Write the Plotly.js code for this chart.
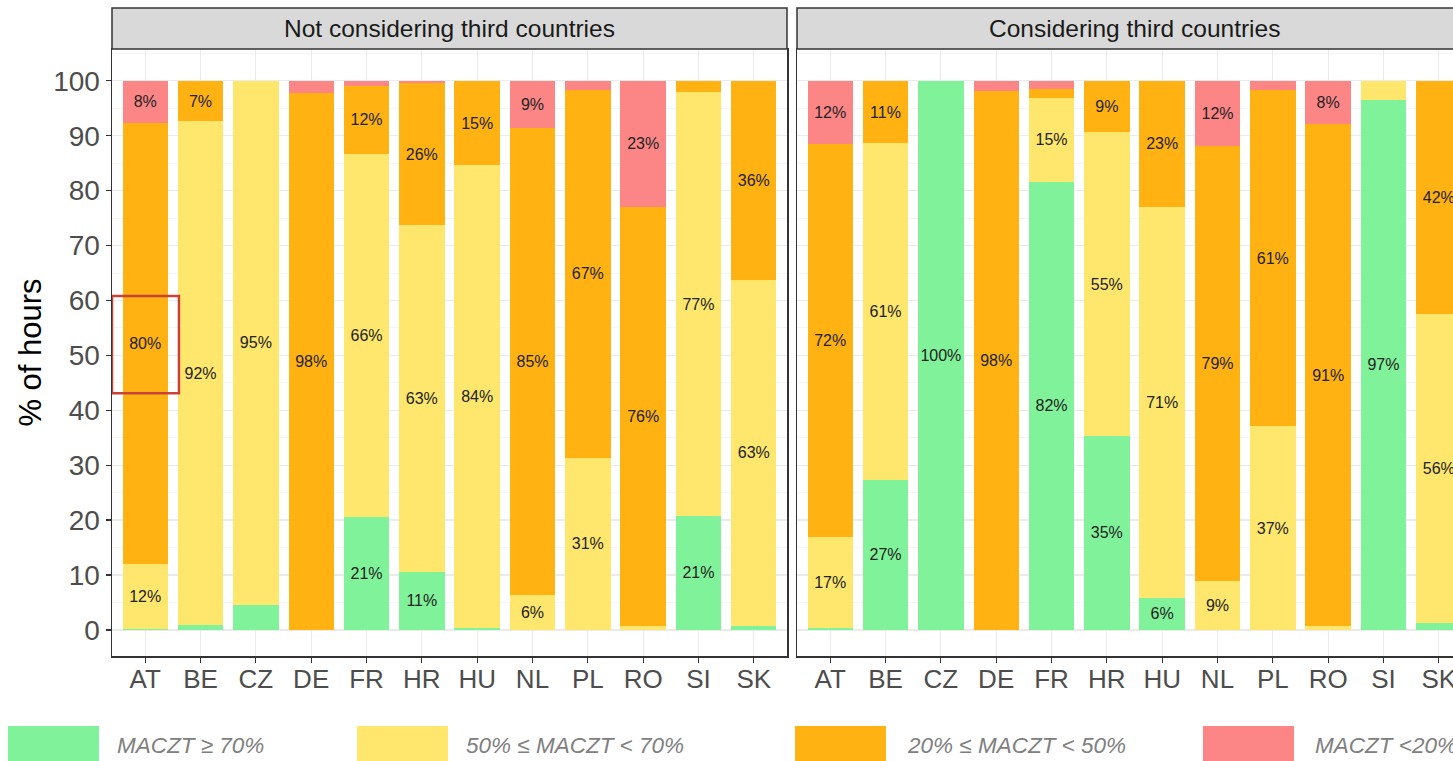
<!DOCTYPE html>
<html><head><meta charset="utf-8">
<script src="https://cdn.plot.ly/plotly-3.0.1.min.js"></script>
<style>html,body{margin:0;padding:0;overflow:hidden;background:#fff;} #chart{width:1480px;height:761px;}</style>
</head><body><div id="chart"></div>
<script>
const countries = ['AT','BE','CZ','DE','FR','HR','HU','NL','PL','RO','SI','SK'];
const panelTitles = ['Not considering third countries','Considering third countries'];
const classLabels = ['MACZT \u2265 70%','50% \u2264 MACZT < 70%','20% \u2264 MACZT < 50%','MACZT <20%'];
const classColors = ['#80f29a','#fee76c','#ffb212','#fc8686'];
// Not considering third countries (% of hours)
const notGreen  = [0.2, 0.9, 4.6, 0, 20.6, 10.6, 0.3, 0, 0, 0, 20.8, 0.8];
const notYellow = [11.8, 91.7, 95.4, 0, 66.1, 63.1, 84.3, 6.4, 31.4, 0.8, 77.1, 62.9];
const notOrange = [80.3, 7.4, 0, 97.8, 12.4, 25.9, 15.4, 85.0, 67.0, 76.3, 2.1, 36.3];
const notRed    = [7.7, 0, 0, 2.2, 0.9, 0.4, 0, 8.6, 1.6, 22.9, 0, 0];
// Considering third countries (% of hours)
const conGreen  = [0.3, 27.3, 100, 0, 81.6, 35.4, 5.9, 0, 0, 0, 96.6, 1.2];
const conYellow = [16.6, 61.3, 0, 0, 15.3, 55.2, 71.2, 8.9, 37.1, 0.7, 3.4, 56.4];
const conOrange = [71.6, 11.4, 0, 98.2, 1.6, 9.4, 22.9, 79.2, 61.2, 91.4, 0, 42.4];
const conRed    = [11.5, 0, 0, 1.8, 1.5, 0, 0, 11.9, 1.7, 7.9, 0, 0];
const yTickVals = [0,10,20,30,40,50,60,70,80,90,100];

const W = 1480, H = 761, ML = 112, MR = 8, MT = 49, MB = 105;
const PW = W - ML - MR, PH = H - MT - MB;
const px2x = px => (px - ML) / PW;
const py2y = py => (H - MB - py) / PH;

const lbl = arr => arr.map(v => v >= 5 ? Math.round(v) + '%' : '');
const panels = [
  {series:[notGreen, notYellow, notOrange, notRed], xa:'x', ya:'y'},
  {series:[conGreen, conYellow, conOrange, conRed], xa:'x2', ya:'y2'}
];
const traces = [];
panels.forEach((p, pi) => {
  p.series.forEach((vals, ci) => {
    traces.push({
      type:'bar', x:countries, y:vals, xaxis:p.xa, yaxis:p.ya,
      name:classLabels[ci], showlegend:false,
      marker:{color:classColors[ci], line:{width:0}},
      text:lbl(vals), textposition:'inside', insidetextanchor:'middle',
      textangle:0, constraintext:'none',
      insidetextfont:{family:'Liberation Sans, Arial, sans-serif', size:16, color:'#222'},
      hoverinfo:'x+y+name'
    });
  });
});

const fontF = 'Liberation Sans, Arial, sans-serif';
const xBase = {
  type:'category', categoryorder:'array', categoryarray:countries, range:[-0.6, 11.6],
  showgrid:true, gridcolor:'#ebebeb', gridwidth:1.2,
  showline:true, mirror:true, linecolor:'#333', linewidth:1.5,
  ticks:'outside', ticklen:5, tickcolor:'#333', tickwidth:1.2, ticklabelstandoff:-6,
  tickfont:{family:fontF, size:26, color:'#4d4d4d'}, zeroline:false, fixedrange:true
};
const yBase = {
  range:[-4.75, 105.8], tickmode:'array', tickvals:yTickVals,
  showgrid:true, gridcolor:'#ebebeb', gridwidth:1.2,
  minor:{dtick:5, tick0:0, showgrid:true, gridcolor:'#f2f2f2', gridwidth:0.8, ticks:''},
  showline:true, mirror:true, linecolor:'#333', linewidth:1.5,
  zeroline:false, fixedrange:true
};
const layout = {
  width:W, height:H, margin:{l:ML, r:MR, t:MT, b:MB},
  paper_bgcolor:'#fff', plot_bgcolor:'#fff', barmode:'stack', bargap:0.18,
  showlegend:false, font:{family:fontF},
  xaxis:Object.assign({}, xBase, {domain:[0, px2x(787)], anchor:'y'}),
  xaxis2:Object.assign({}, xBase, {domain:[px2x(797), 1], anchor:'y2'}),
  yaxis:Object.assign({}, yBase, {anchor:'x', ticks:'outside', ticklen:5, tickcolor:'#333', tickwidth:1.2,
    tickfont:{family:fontF, size:28, color:'#4d4d4d'},
    title:{text:'% of hours', font:{family:fontF, size:31, color:'#000'}, standoff:2}}),
  yaxis2:Object.assign({}, yBase, {anchor:'x2', showticklabels:false, ticks:''}),
  shapes:[], annotations:[]
};
// facet strips
const stripTop = 1 + (MT - 8) / PH;
[['x','y'],['x2','y2']].forEach((ax, i) => {
  layout.shapes.push({type:'rect', xref:ax[0]+' domain', yref:'paper', x0:0, x1:1, y0:1, y1:stripTop,
    fillcolor:'#d9d9d9', line:{color:'#333', width:1.5}, layer:'above'});
  layout.annotations.push({xref:ax[0]+' domain', yref:'paper', x:0.5, y:(1+stripTop)/2,
    text:panelTitles[i], showarrow:false, xanchor:'center', yanchor:'middle',
    font:{family:fontF, size:24.5, color:'#1a1a1a'}});
});
// highlight box around AT 80%
layout.shapes.push({type:'rect', xref:'x', yref:'y', x0:-0.6, x1:0.61, y0:43.1, y1:60.8,
  line:{color:'#c8423a', width:2.5}, fillcolor:'rgba(0,0,0,0)', layer:'above'});
// manual legend
const legSwX = [8, 357, 795, 1203], legSwW = 91, legTxtX = [115, 464, 905, 1313];
classLabels.forEach((t, i) => {
  layout.shapes.push({type:'rect', xref:'paper', yref:'paper',
    x0:px2x(legSwX[i]), x1:px2x(legSwX[i]+legSwW), y0:py2y(775), y1:py2y(726),
    fillcolor:classColors[i], line:{width:0}});
  layout.annotations.push({xref:'paper', yref:'paper', x:px2x(legTxtX[i]), y:py2y(745),
    xanchor:'left', yanchor:'middle', showarrow:false,
    text:'<i>'+t+'</i>', font:{family:fontF, size:22.5, color:'#808080'}});
});
Plotly.newPlot('chart', traces, layout, {displayModeBar:false, staticPlot:true});
</script></body></html>
